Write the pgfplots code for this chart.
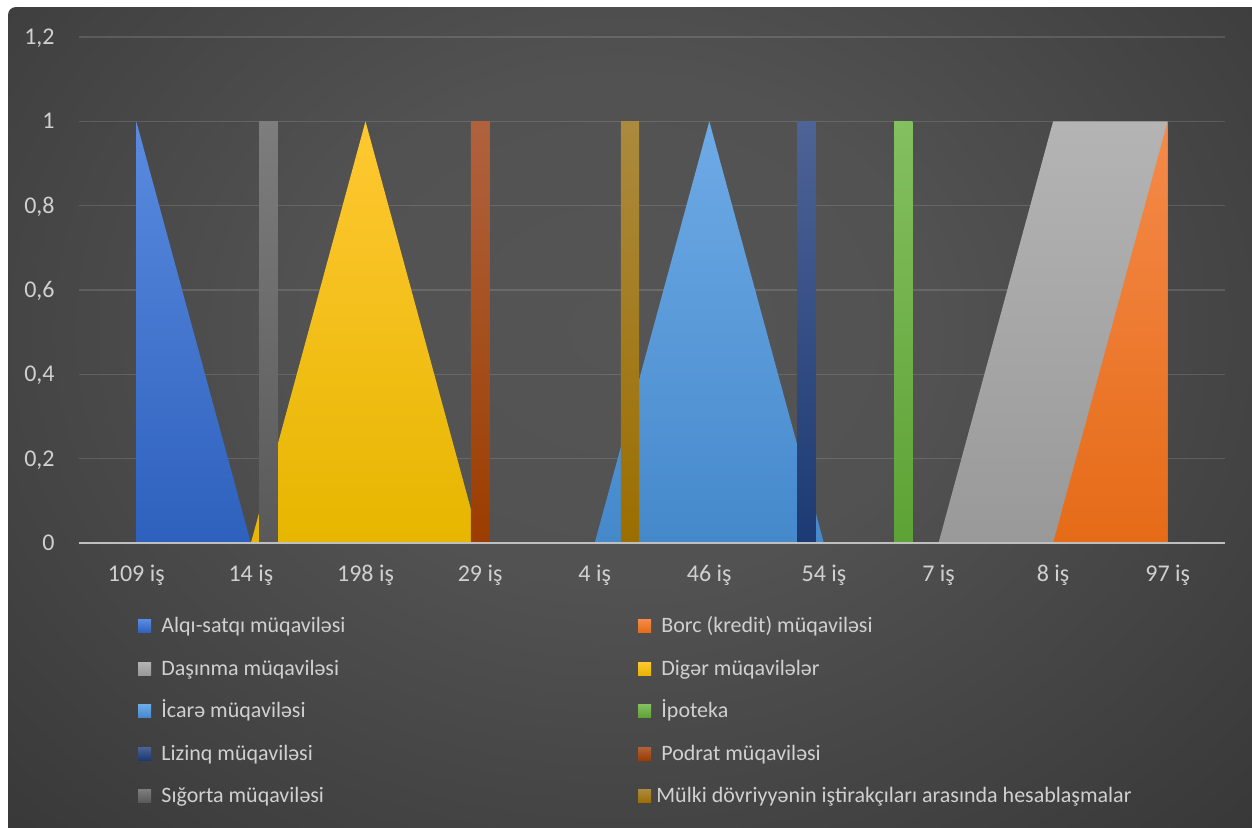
\documentclass[border=0pt]{standalone}
\usepackage{pgfplots}
\pgfplotsset{compat=1.18}
\usepackage{fontspec}
\setmainfont{Carlito}

\definecolor{bgin}{HTML}{555555}
\definecolor{bgmid}{HTML}{525252}
\definecolor{bgedge}{HTML}{2A2A2A}
\definecolor{bgout}{HTML}{262626}
\definecolor{ticktext}{HTML}{D0D0D0}
\definecolor{zeroline}{HTML}{BFBFBF}

\definecolor{blueT}{HTML}{5A8BE0}\definecolor{blueB}{HTML}{2E61BD}
\definecolor{orangeT}{HTML}{F58A4A}\definecolor{orangeB}{HTML}{E56B17}
\definecolor{grayT}{HTML}{B4B4B4}\definecolor{grayB}{HTML}{999999}
\definecolor{yellowT}{HTML}{FFC832}\definecolor{yellowB}{HTML}{E6B600}
\definecolor{lblueT}{HTML}{6EAAE6}\definecolor{lblueB}{HTML}{4589CB}
\definecolor{greenT}{HTML}{84BF60}\definecolor{greenB}{HTML}{5DA234}
\definecolor{navyT}{HTML}{4E6396}\definecolor{navyB}{HTML}{1C3A73}
\definecolor{brownT}{HTML}{B0623E}\definecolor{brownB}{HTML}{9C3D00}
\definecolor{dgrayT}{HTML}{7D7D7D}\definecolor{dgrayB}{HTML}{595959}
\definecolor{goldT}{HTML}{AB8A3E}\definecolor{goldB}{HTML}{9B6E00}

\pgfdeclareradialshading{bgshade}{\pgfpoint{0bp}{0bp}}{color(0bp)=(bgin); color(12bp)=(bgmid); color(46bp)=(bgedge); color(60bp)=(bgout); color(80bp)=(bgout)}

\newcommand\legitem[5]{%
  \shade[top color=#3, bottom color=#4] (#1,#2+3.25pt) rectangle (#1+6.5pt,#2-3.25pt);
  \node[anchor=base west, inner sep=0pt, text=ticktext, font=\fontsize{11}{13}\selectfont] at (#1+11.5pt,#2-3.4pt) {#5};}

\begin{document}
\begin{tikzpicture}
\useasboundingbox (0,0) rectangle (626pt,-413.5pt);
\fill[white] (0,0) rectangle (626pt,-413.5pt);
\begin{scope}
\clip[rounded corners=4pt] (4pt,-3.5pt) rectangle (640pt,-430pt);
\shade[shading=bgshade] (-15pt,95pt) rectangle (635pt,-425pt);
\end{scope}

\begin{axis}[
  at={(39.5pt,-271.5pt)}, anchor=south west,
  scale only axis, width=573pt, height=253pt,
  xmin=-0.5, xmax=9.5, ymin=0, ymax=1.2,
  axis line style={draw=none},
  tick style={draw=none}, major tick length=0pt,
  ytick={0,0.2,0.4,0.6,0.8,1,1.2},
  yticklabels={0,{0,2},{0,4},{0,6},{0,8},1,{1,2}},
  xtick={0,1,2,3,4,5,6,7,8,9},
  xticklabels={109 iş,14 iş,198 iş,29 iş,4 iş,46 iş,54 iş,7 iş,8 iş,97 iş},
  ymajorgrids, grid style={white, opacity=0.13, line width=0.65pt},
  tick label style={font=\fontsize{12}{14}\selectfont, text=ticktext},
  yticklabel style={anchor=base east, inner sep=0pt, xshift=-12pt, yshift=-3.75pt},
  xticklabel style={anchor=base, inner sep=0pt, yshift=-19pt},
]
% area series
\addplot[draw=none, top color=grayT, bottom color=grayB] coordinates {(0,0)(1,0)(2,0)(3,0)(4,0)(5,0)(6,0)(7,0)(8,1)(9,1)} \closedcycle;
\addplot[draw=none, top color=orangeT, bottom color=orangeB] coordinates {(0,0)(1,0)(2,0)(3,0)(4,0)(5,0)(6,0)(7,0)(8,0)(9,1)} \closedcycle;
\addplot[draw=none, top color=blueT, bottom color=blueB] coordinates {(0,1)(1,0)(2,0)(3,0)(4,0)(5,0)(6,0)(7,0)(8,0)(9,0)} \closedcycle;
\addplot[draw=none, top color=yellowT, bottom color=yellowB] coordinates {(0,0)(1,0)(2,1)(3,0)(4,0)(5,0)(6,0)(7,0)(8,0)(9,0)} \closedcycle;
\addplot[draw=none, top color=lblueT, bottom color=lblueB] coordinates {(0,0)(1,0)(2,0)(3,0)(4,0)(5,1)(6,0)(7,0)(8,0)(9,0)} \closedcycle;
% column series
\addplot[ybar, bar width=0.16, bar shift=0.154, draw=none, top color=dgrayT, bottom color=dgrayB] coordinates {(1,1)};
\addplot[ybar, bar width=0.16, bar shift=0, draw=none, top color=brownT, bottom color=brownB] coordinates {(3,1)};
\addplot[ybar, bar width=0.16, bar shift=0.308, draw=none, top color=goldT, bottom color=goldB] coordinates {(4,1)};
\addplot[ybar, bar width=0.16, bar shift=-0.154, draw=none, top color=navyT, bottom color=navyB] coordinates {(6,1)};
\addplot[ybar, bar width=0.16, bar shift=-0.308, draw=none, top color=greenT, bottom color=greenB] coordinates {(7,1)};
\end{axis}

\draw[zeroline, line width=1pt] (39.5pt,-271.5pt) -- (612.5pt,-271.5pt);

\legitem{69pt}{-313pt}{blueT}{blueB}{Alqı-satqı müqaviləsi}
\legitem{319pt}{-313pt}{orangeT}{orangeB}{Borc (kredit) müqaviləsi}
\legitem{69pt}{-334.25pt}{grayT}{grayB}{Daşınma müqaviləsi}
\legitem{319pt}{-334.25pt}{yellowT}{yellowB}{Digər müqavilələr}
\legitem{69pt}{-355.5pt}{lblueT}{lblueB}{İcarə müqaviləsi}
\legitem{319pt}{-355.5pt}{greenT}{greenB}{İpoteka}
\legitem{69pt}{-376.75pt}{navyT}{navyB}{Lizinq müqaviləsi}
\legitem{319pt}{-376.75pt}{brownT}{brownB}{Podrat müqaviləsi}
\legitem{69pt}{-398pt}{dgrayT}{dgrayB}{Sığorta müqaviləsi}
\shade[top color=goldT, bottom color=goldB] (319pt,-398pt+3.25pt) rectangle (325.5pt,-398pt-3.25pt);
\node[anchor=base west, inner sep=0pt, text=ticktext, font=\fontsize{11}{13}\selectfont] at (328pt,-401.4pt) {Mülki dövriyyənin iştirakçıları arasında hesablaşmalar};
\end{tikzpicture}
\end{document}
